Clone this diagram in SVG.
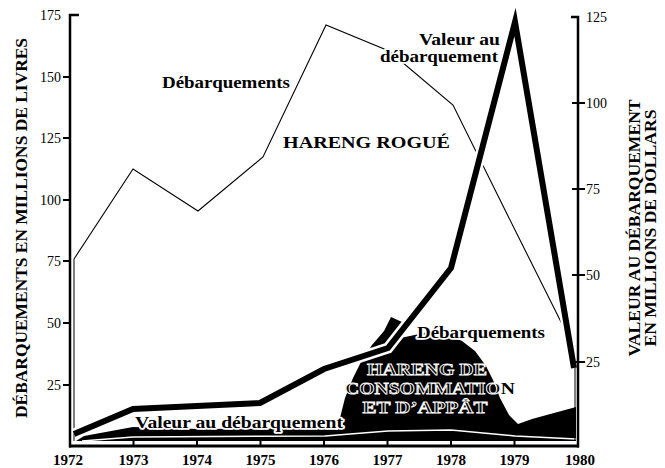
<svg xmlns="http://www.w3.org/2000/svg" width="665" height="468" viewBox="0 0 665 468">
<style>
text{font-family:"Liberation Serif","DejaVu Serif",serif;fill:#000}
.tick{font-size:14px}
.yr{font-size:15px;font-weight:bold;text-anchor:middle}
.lbl{font-size:17px;font-weight:bold}
.halo{paint-order:stroke;stroke:#fff;stroke-width:3.5px;stroke-linejoin:round}
.outl{font-size:17px;font-weight:bold;fill:#000;stroke:#fff;stroke-width:0.85px;text-anchor:middle}
.plain{stroke:none}
.ax{stroke:#000;stroke-width:2.5;fill:none}
.tk{stroke:#000;stroke-width:2;fill:none}
</style>
<rect width="665" height="468" fill="#fff"/>

<g id="consommation-area">
<path d="M76,441 L84,436 L133,427 L200,429 L330,428 L338,430 L340,418 L345,398 L353,378 L362,360 L372,345 L384,331 L391,317 L402,322 L400,338 L410,336 L428,332 L446,334 L462,341 L475,351 L486,366 L493,380 L500,398 L509,415 L518,424 L532,419 L576,407 L576,441 Z" fill="#000"/>
<polyline points="82,441 133,437 325,436 388,431 451,430 515,436 576,439" fill="none" stroke="#fff" stroke-width="1.5"/>
</g>

<g id="connectors">
<polyline id="rogue-landings" points="74,259 133,169 198,211 263,157 326,25 389,51 453,105 516,232 571,342" fill="none" stroke="#000" stroke-width="1.1"/>
<line x1="74" y1="259" x2="74" y2="441" stroke="#000" stroke-width="1"/>
<line x1="575" y1="345" x2="575" y2="441" stroke="#000" stroke-width="1"/>
<polyline points="74,434 133,409 197,406 260,403 324,369 388,348 451,268 515,22 574,368" fill="none" stroke="#fff" stroke-width="11" stroke-linejoin="miter" stroke-miterlimit="10"/>
<polyline id="rogue-value" points="74,434 133,409 197,406 260,403 324,369 388,348 451,268 515,22 574,368" fill="none" stroke="#000" stroke-width="6" stroke-linejoin="miter" stroke-miterlimit="10"/>
</g>

<g id="axes">
<line x1="72" y1="442.5" x2="576" y2="442.5" stroke="#fff" stroke-width="2"/>
<line class="ax" x1="70" y1="14" x2="70" y2="447.5"/>
<line class="ax" x1="69" y1="15" x2="79" y2="15"/>
<line class="ax" x1="578" y1="16" x2="578" y2="447.5"/>
<line class="ax" x1="571" y1="17" x2="579" y2="17"/>
<line x1="69" y1="446" x2="579" y2="446" stroke="#000" stroke-width="3"/>
<g class="tk">
<line x1="63" y1="77" x2="70" y2="77"/>
<line x1="63" y1="138" x2="70" y2="138"/>
<line x1="63" y1="200" x2="70" y2="200"/>
<line x1="63" y1="261" x2="70" y2="261"/>
<line x1="63" y1="323" x2="70" y2="323"/>
<line x1="63" y1="385" x2="70" y2="385"/>
<line x1="572" y1="103" x2="585" y2="103"/>
<line x1="572" y1="189" x2="585" y2="189"/>
<line x1="572" y1="275" x2="585" y2="275"/>
<line x1="572" y1="362" x2="585" y2="362"/>
<line x1="133.5" y1="439" x2="133.5" y2="446"/>
<line x1="197" y1="439" x2="197" y2="446"/>
<line x1="260.5" y1="439" x2="260.5" y2="446"/>
<line x1="324" y1="439" x2="324" y2="446"/>
<line x1="387.5" y1="439" x2="387.5" y2="446"/>
<line x1="451" y1="439" x2="451" y2="446"/>
<line x1="514.5" y1="439" x2="514.5" y2="446"/>
</g>
<g class="tick" text-anchor="end">
<text x="61" y="20">175</text>
<text x="61" y="82">150</text>
<text x="61" y="143">125</text>
<text x="61" y="205">100</text>
<text x="61" y="266">75</text>
<text x="61" y="328">50</text>
<text x="61" y="390">25</text>
</g>
<g class="tick">
<text x="586" y="22">125</text>
<text x="586" y="108">100</text>
<text x="586" y="194">75</text>
<text x="586" y="280">50</text>
<text x="586" y="367">25</text>
</g>
<g>
<text class="yr" x="68" y="465">1972</text>
<text class="yr" x="133.5" y="465">1973</text>
<text class="yr" x="197" y="465">1974</text>
<text class="yr" x="260.5" y="465">1975</text>
<text class="yr" x="324" y="465">1976</text>
<text class="yr" x="387.5" y="465">1977</text>
<text class="yr" x="451" y="465">1978</text>
<text class="yr" x="514.5" y="465">1979</text>
<text class="yr" x="580" y="465">1980</text>
</g>
<text class="lbl" text-anchor="middle" transform="translate(27,228) rotate(-90)" textLength="380" lengthAdjust="spacingAndGlyphs">DÉBARQUEMENTS EN MILLIONS DE LIVRES</text>
<text class="lbl" text-anchor="middle" transform="translate(640,228) rotate(-90)" textLength="257" lengthAdjust="spacingAndGlyphs">VALEUR AU DÉBARQUEMENT</text>
<text class="lbl" text-anchor="middle" transform="translate(656,228) rotate(-90)" textLength="237" lengthAdjust="spacingAndGlyphs">EN MILLIONS DE DOLLARS</text>
</g>

<g id="label-rogue-landings">
<text class="lbl halo" x="162" y="88" textLength="128" lengthAdjust="spacingAndGlyphs">Débarquements</text>
</g>
<g id="label-hareng-rogue">
<text class="lbl" x="283" y="148" textLength="167" lengthAdjust="spacingAndGlyphs">HARENG ROGUÉ</text>
</g>
<g id="label-rogue-value">
<text class="lbl halo" x="419" y="45" textLength="81" lengthAdjust="spacingAndGlyphs">Valeur au</text>
<text class="lbl halo" x="380" y="62" textLength="118" lengthAdjust="spacingAndGlyphs">débarquement</text>
</g>
<g id="label-conso-landings">
<text class="lbl halo" x="417" y="338" textLength="128" lengthAdjust="spacingAndGlyphs">Débarquements</text>
</g>
<g id="label-conso">
<text class="outl" x="427" y="375" textLength="120" lengthAdjust="spacingAndGlyphs">HARENG DE</text>
<text class="outl" x="430" y="394" textLength="170" lengthAdjust="spacingAndGlyphs">CONSOMMATIO<tspan class="plain">N</tspan></text>
<text class="outl" x="425" y="413" textLength="125" lengthAdjust="spacingAndGlyphs">ET D’APPÂT</text>
</g>
<g id="label-conso-value">
<text class="lbl halo" x="135" y="428" textLength="208" lengthAdjust="spacingAndGlyphs">Valeur au débarquement</text>
</g>
</svg>
